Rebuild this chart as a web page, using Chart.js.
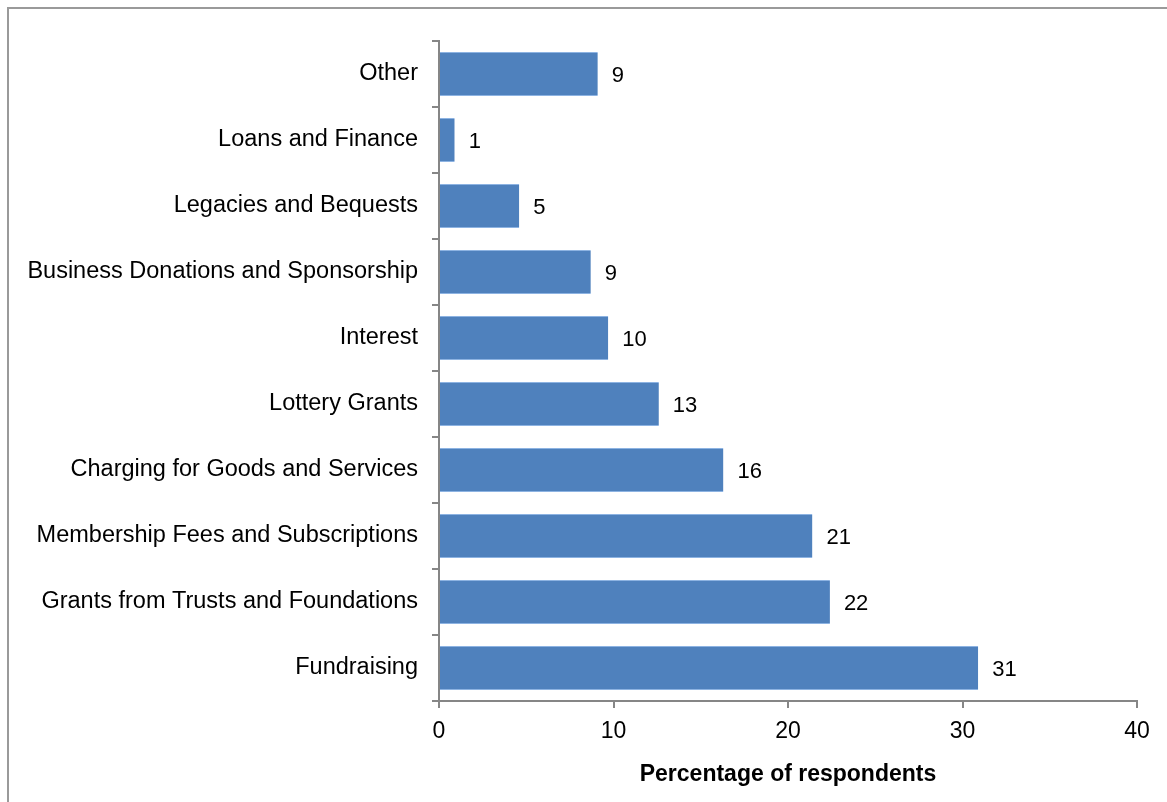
<!DOCTYPE html>
<html>
<head>
<meta charset="utf-8">
<script src="https://cdn.jsdelivr.net/npm/chart.js@4"></script>
<style>
  html, body { margin: 0; padding: 0; background: #ffffff; }
  #wrap { width: 1167px; height: 802px; position: relative; }
</style>
</head>
<body>
<div id="wrap"><canvas id="income_chart"></canvas></div>
<script>
// Income sources, bottom to top as drawn
const source_labels = [
	'Fundraising',
	'Grants from Trusts and Foundations',
	'Membership Fees and Subscriptions',
	'Charging for Goods and Services',
	'Lottery Grants',
	'Interest',
	'Business Donations and Sponsorship',
	'Legacies and Bequests',
	'Loans and Finance',
	'Other'
];
const source_values = [30.9, 22.4, 21.4, 16.3, 12.6, 9.7, 8.7, 4.6, 0.9, 9.1];
const x_ticks = [0, 10, 20, 30, 40];

const FONT = '"Liberation Sans", Arial, sans-serif';

// Frame around the whole figure
const framePlugin = {
	id: 'frame',
	beforeDraw(chart) {
		const c = chart.ctx;
		c.save();
		c.strokeStyle = '#9a9a9a';
		c.lineWidth = 2;
		c.beginPath();
		c.moveTo(8, 1200);
		c.lineTo(8, 8);
		c.lineTo(1300, 8);
		c.stroke();
		c.restore();
	}
};

// Value labels just past the end of each bar
const valueLabels = {
	id: 'valueLabels',
	afterDatasetsDraw(chart) {
		const c = chart.ctx;
		const meta = chart.getDatasetMeta(0);
		c.save();
		c.font = '22px ' + FONT;
		c.fillStyle = '#000000';
		c.textAlign = 'left';
		c.textBaseline = 'middle';
		meta.data.forEach(function(bar, i) {
			c.fillText(Math.round(source_values[i]), bar.x + 14, bar.y + 2);
		});
		c.restore();
	}
};

const ctx = document.getElementById('income_chart').getContext('2d');
const income_chart = new Chart(ctx, {
	type: 'bar',
	data: {
		labels: source_labels,
		datasets: [{
			data: source_values,
			backgroundColor: '#4f81bd',
			borderColor: '#8db3e2',
			borderWidth: { top: 1, bottom: 1, left: 0, right: 0 },
			borderSkipped: false,
			categoryPercentage: 1.0,
			barPercentage: 0.67
		}]
	},
	options: {
		indexAxis: 'y',
		responsive: true,
		maintainAspectRatio: false,
		animation: false,
		layout: { padding: { top: 41, right: 30, left: 0, bottom: 0 } },
		scales: {
			x: {
				min: 0,
				max: 40,
				afterBuildTicks(axis) {
					axis.ticks = x_ticks.map(function(v) { return { value: v }; });
				},
				afterFit(axis) { axis.height = 101; },
				border: { color: '#868686', width: 2 },
				grid: {
					drawOnChartArea: false,
					drawTicks: true,
					tickLength: 7,
					color: '#868686',
					lineWidth: 2
				},
				ticks: {
					color: '#000000',
					font: { family: FONT, size: 23 },
					padding: 10,
					maxRotation: 0
				},
				title: {
					display: true,
					text: 'Percentage of respondents',
					color: '#000000',
					font: { family: FONT, size: 23, weight: 'bold' },
					padding: { top: 10, bottom: 14 }
				}
			},
			y: {
				reverse: true,
				offset: true,
				afterFit(axis) { axis.width = 439; },
				border: { color: '#868686', width: 2 },
				grid: {
					offset: true,
					drawOnChartArea: false,
					drawTicks: true,
					tickLength: 7,
					color: '#868686',
					lineWidth: 2
				},
				ticks: {
					color: '#000000',
					font: { family: FONT, size: 23.5 },
					padding: 14
				}
			}
		},
		plugins: {
			legend: { display: false },
			tooltip: { enabled: false }
		}
	},
	plugins: [framePlugin, valueLabels]
});
</script>
</body>
</html>
